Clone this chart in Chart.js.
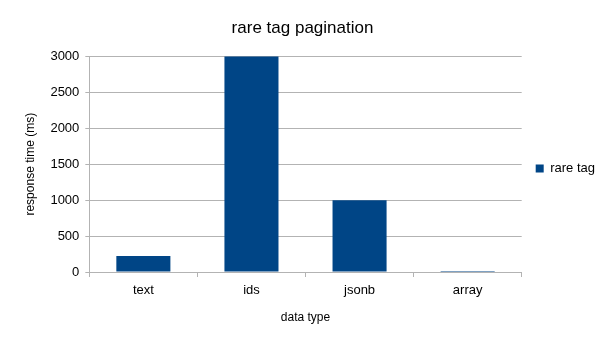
<!DOCTYPE html>
<html>
<head>
<meta charset="utf-8">
<script src="https://cdn.jsdelivr.net/npm/chart.js@4"></script>
<style>
  body { margin: 0; background: #fff; }
  #wrap { width: 605px; height: 340px; }
</style>
</head>
<body>
<div id="wrap"><canvas id="myChart"></canvas></div>
<script>
var categories = ["text", "ids", "jsonb", "array"];
var rareTag = [222, 3005, 1000, 14];
var yTicks = [0, 500, 1000, 1500, 2000, 2500, 3000];

Chart.defaults.font.family = "'Liberation Sans', Arial, sans-serif";
Chart.defaults.color = "#000";

function buildChart() {
	var ctx = document.getElementById('myChart').getContext('2d');
	var chart = new Chart(ctx, {
		type: 'bar',
		data: {
			labels: categories,
			datasets: [{
				label: "rare tag",
				backgroundColor: '#004586',
				borderWidth: 0,
				data: rareTag,
				barPercentage: 0.5,
				categoryPercentage: 1.0
			}]
		},
		options: {
			responsive: true,
			maintainAspectRatio: false,
			animation: false,
			layout: { padding: { left: 0, right: 0, top: 8, bottom: 11 } },
			plugins: {
				title: {
					display: true,
					text: "rare tag pagination",
					font: { size: 17, weight: 'normal' },
					padding: { top: 10, bottom: 18 }
				},
				legend: {
					position: 'right',
					labels: {
						usePointStyle: true,
						pointStyle: 'rect',
						boxWidth: 8,
						boxHeight: 8,
						font: { size: 13 },
						padding: 14
					}
				},
				tooltip: { enabled: false }
			},
			scales: {
				x: {
					grid: {
						offset: true,
						drawOnChartArea: false,
						color: '#b3b3b3',
						tickLength: 5
					},
					border: { color: '#b3b3b3' },
					ticks: { font: { size: 13 }, padding: 6 },
					title: {
						display: true,
						text: "data type",
						font: { size: 12 },
						padding: { top: 6 }
					}
				},
				y: {
					min: 0,
					max: 3000,
					afterBuildTicks: function(axis) {
						axis.ticks = yTicks.map(function(v) { return { value: v }; });
					},
					grid: { color: '#b3b3b3', tickLength: 4 },
					border: { color: '#b3b3b3' },
					ticks: {
						font: { size: 13 },
						padding: 6,
						callback: function(v) { return String(v); }
					},
					title: {
						display: true,
						text: "response time (ms)",
						font: { size: 12 },
						padding: { top: 23, bottom: 7 }
					}
				}
			}
		}
	});
}

buildChart();
</script>
</body>
</html>
